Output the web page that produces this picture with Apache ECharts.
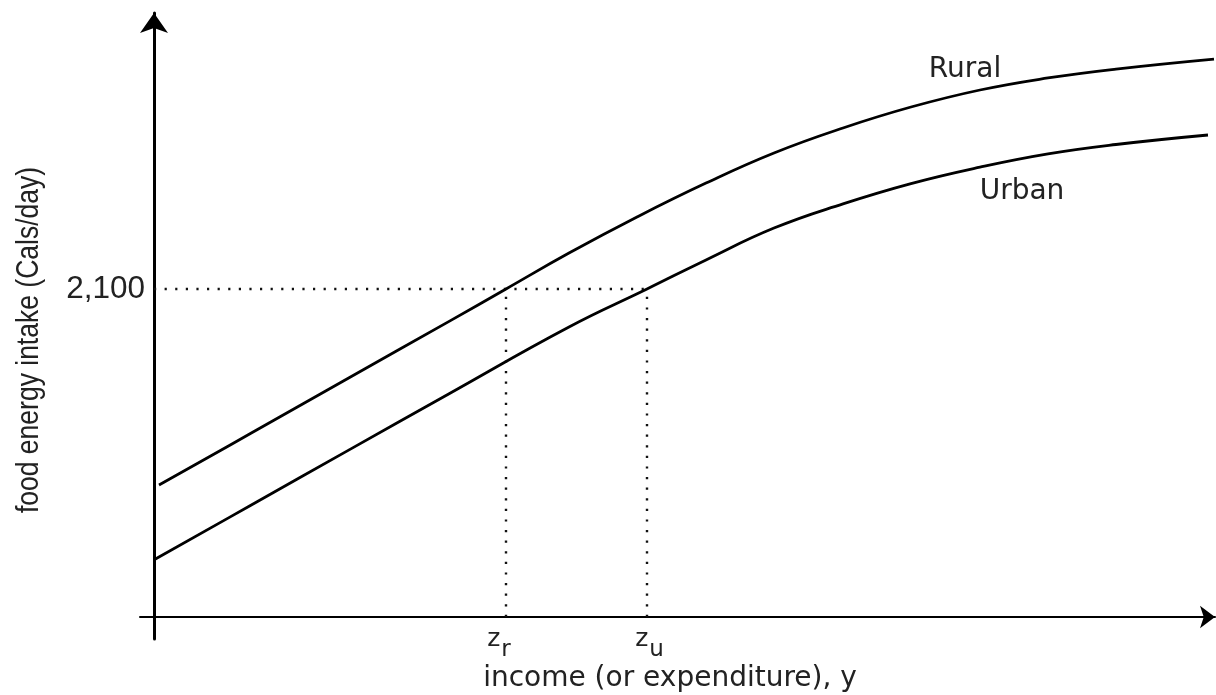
<!DOCTYPE html>
<html><head><meta charset="utf-8">
<script src="https://cdn.jsdelivr.net/npm/echarts@6/dist/echarts.min.js"></script>
<style>html,body{margin:0;padding:0;background:#fff}#c{width:1216px;height:695px}</style>
</head><body><div id="c"></div>
<script>
// income (arbitrary units) and food energy intake (Cals/day)
const ruralX = [0.5, 9.6, 19.6, 29.6, 35.2, 41.5, 48.3, 55.2, 62.0, 68.9, 75.7, 82.6, 89.4, 96.2, 106.0];
const ruralY = [845, 1173, 1535, 1896, 2100, 2330, 2561, 2778, 2971, 3131, 3265, 3374, 3451, 3508, 3572];
const urbanX = [0.1, 9.6, 19.6, 29.6, 41.5, 49.3, 55.2, 62.0, 68.9, 75.7, 82.6, 89.4, 96.2, 105.4];
const urbanY = [369, 712, 1073, 1433, 1857, 2100, 2286, 2490, 2645, 2775, 2880, 2965, 3025, 3086];
const threshold = 2100;
const zRural = 35.2;
const zUrban = 49.3;
const yTickValues = [2100];
const yTickLabels = ['2,100'];
const zLabels = ['{z|z}{s|r}', '{z|z}{s|u}'];
const seriesNames = ['Rural', 'Urban'];
const xTitle = 'income (or expenditure), y';
const yTitle = 'food energy intake (Cals/day)';

const zip = (xs, ys) => xs.map((x, i) => [x, ys[i]]);
const dotted = { color: '#111', width: 2.4, type: [2.2, 8.4] };
const zRich = {
  z: { fontFamily: 'DejaVu Sans', fontSize: 25, color: '#222', lineHeight: 25, verticalAlign: 'top' },
  s: { fontFamily: 'DejaVu Sans', fontSize: 23, color: '#222', lineHeight: 23, verticalAlign: 'top', padding: [11, 0, 0, 1] }
};
const guideH = () => ({
  type: 'line', data: [[0, threshold], [zUrban, threshold]], showSymbol: false, silent: true,
  lineStyle: dotted, z: 1
});
const guideV = (zv, text, dx) => ({
  type: 'line', silent: true, z: 1, showSymbol: true, symbol: 'circle', symbolSize: 1,
  itemStyle: { color: 'rgba(0,0,0,0)' }, lineStyle: dotted,
  label: { show: false },
  data: [
    { value: [zv, 0], label: { show: true, position: 'bottom', distance: 10, offset: [dx, 0],
      formatter: text, fontFamily: 'DejaVu Sans', fontSize: 25, color: '#222', rich: zRich } },
    [zv, threshold]
  ]
});

const chart = echarts.init(document.getElementById('c'), null, { renderer: 'canvas' });
chart.setOption({
  animation: false,
  backgroundColor: '#fff',
  grid: { left: 140, right: 1, top: 13, bottom: 56, containLabel: false, outerBoundsMode: 'none' },
  xAxis: {
    type: 'value', min: -1.4, max: 106.1,
    splitLine: { show: false },
    axisTick: { show: false },
    axisLabel: { show: false },
    axisLine: { show: true, onZero: true, symbol: ['none', 'arrow'], symbolSize: [17, 15],
      lineStyle: { color: '#000', width: 2 } }
  },
  yAxis: {
    type: 'value', min: -141, max: 3867,
    splitLine: { show: false },
    axisTick: { show: false },
    axisLine: { show: true, onZero: true, symbol: ['none', 'arrow'], symbolSize: [21, 20],
      lineStyle: { color: '#000', width: 3 } },
    axisLabel: {
      customValues: yTickValues,
      formatter: (v) => yTickLabels[yTickValues.indexOf(v)] || '',
      margin: -5,
      fontFamily: 'Liberation Sans', fontSize: 31.5, color: '#222'
    }
  },
  series: [
    { name: seriesNames[0], type: 'line', data: zip(ruralX, ruralY), smooth: 0.45,
      showSymbol: false, lineStyle: { color: '#000', width: 2.8 }, z: 3 },
    { name: seriesNames[1], type: 'line', data: zip(urbanX, urbanY), smooth: 0.45,
      showSymbol: false, lineStyle: { color: '#000', width: 2.8 }, z: 3 },
    guideH(),
    guideV(zRural, zLabels[0], -7),
    guideV(zUrban, zLabels[1], 2.5)
  ],
  graphic: [
    { type: 'text', x: 965, y: 70, style: { text: seriesNames[0], font: '28px "DejaVu Sans"', fill: '#222', align: 'center', verticalAlign: 'middle' } },
    { type: 'text', x: 1022, y: 192, style: { text: seriesNames[1], font: '28px "DejaVu Sans"', fill: '#222', align: 'center', verticalAlign: 'middle' } },
    { type: 'text', x: 670, y: 679, style: { text: xTitle, font: '28px "DejaVu Sans"', fill: '#222', align: 'center', verticalAlign: 'middle' } },
    { type: 'text', x: 29, y: 340, rotation: Math.PI / 2, scaleX: 0.855,
      style: { text: yTitle, font: '31px "Liberation Sans"', fill: '#222', align: 'center', verticalAlign: 'middle' } }
  ]
});
</script></body></html>
